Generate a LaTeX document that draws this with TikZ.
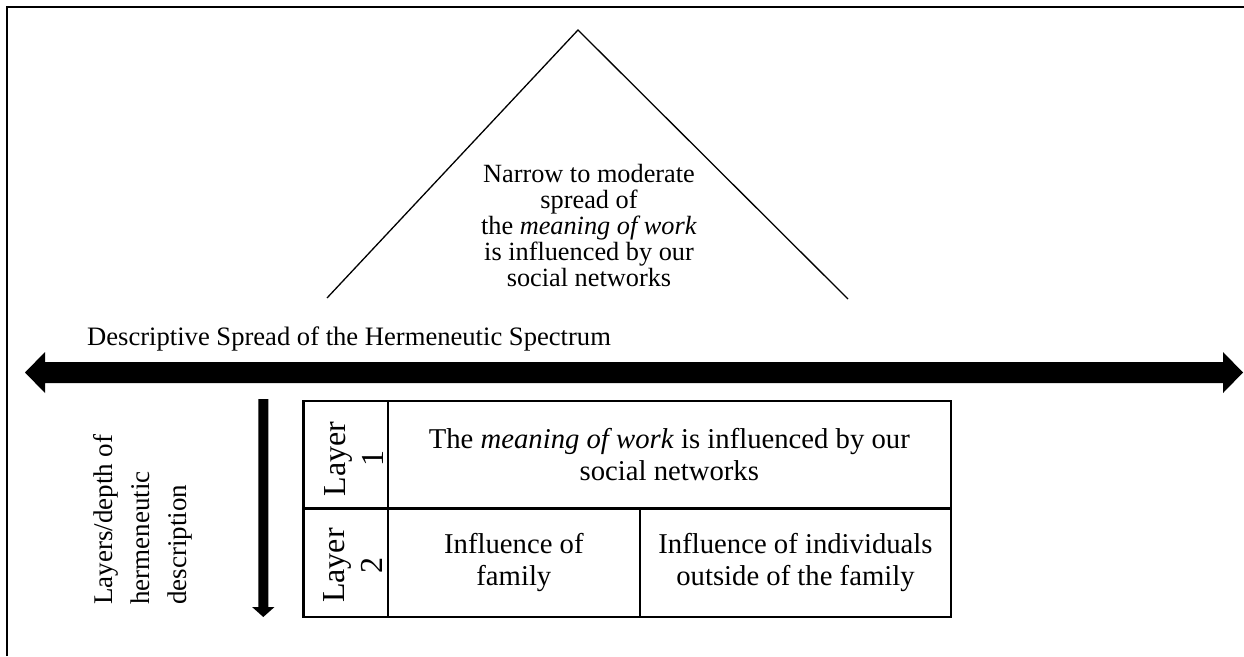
\documentclass[tikz,border=0pt]{standalone}
\usepackage{fontspec}
\setmainfont{Liberation Serif}
\usetikzlibrary{calc}

\tikzset{
  frameline/.style={line width=2.4pt},
  roofline/.style={line width=1.3pt},
  rooftext/.style={align=center, inner sep=0pt, font=\fontsize{26.3}{26}\selectfont},
  axislabel/.style={inner sep=0pt, font=\fontsize{26.6}{30}\selectfont},
  cell/.style={draw, line width=2.4pt, inner sep=0pt, align=center,
               font=\fontsize{28.7}{31.5}\selectfont},
  layerlabel/.style={rotate=90, align=center, inner sep=0pt,
                     font=\fontsize{32}{38}\selectfont},
  depthlabel/.style={rotate=90, align=left, inner sep=0pt, anchor=west,
                     font=\fontsize{27}{37}\selectfont},
}

\begin{document}
\begin{tikzpicture}[x=1pt, y=-1pt]
  \useasboundingbox (0,0) rectangle (1244,656);

  % outer frame (top and left edges)
  \coordinate (frameBL) at (7,656);
  \coordinate (frameTL) at (7,7);
  \coordinate (frameTR) at (1244,7);
  \draw[frameline] (frameBL) -- (frameTL) -- (frameTR);

  % roof over the spread description
  \coordinate (apex) at (578,30);
  \coordinate (roofL) at (327,298);
  \coordinate (roofR) at (848,299);
  \draw[roofline] (roofL) -- (apex) -- (roofR);
  \node[rooftext] (spread) at (589,225)
    {Narrow to moderate\\spread of\\the \textit{meaning of work}\\is influenced by our\\social networks};

  % horizontal spectrum axis
  \node[axislabel, anchor=base west] (axisname) at (87,345)
    {Descriptive Spread of the Hermeneutic Spectrum};
  \coordinate (spanL) at (25,372.5);
  \coordinate (spanR) at (1243,372.5);
  \fill (spanL) -- ++(20,-20.5) -- ++(0,10)
        -- ($(spanR)+(-20,-10.5)$) -- ++(0,-10) -- (spanR)
        -- ++(-20,20.5) -- ++(0,-10)
        -- ($(spanL)+(20,10.5)$) -- ++(0,10) -- cycle;

  % vertical depth axis
  \coordinate (depthTop) at (263.3,399);
  \coordinate (depthTip) at (263.3,617);
  \fill ($(depthTop)+(-5,0)$) -- ($(depthTip)+(-5,-10)$)
        -- ($(depthTip)+(-11.2,-10)$) -- (depthTip)
        -- ($(depthTip)+(11.2,-10)$) -- ($(depthTip)+(5,-10)$)
        -- ($(depthTop)+(5,0)$) -- cycle;
  \node[depthlabel] (depthname) at (143,605)
    {Layers/depth of\\hermeneutic\\description};

  % layer table
  \node[cell, minimum width=84.2pt, minimum height=107.3pt] (l1) at (345.6,454.65) {};
  \node[cell, minimum width=563.3pt, minimum height=107.3pt] (c1) at (669.35,454.65)
    {The \textit{meaning of work} is influenced by our\\social networks};
  \node[cell, minimum width=84.2pt, minimum height=108.4pt] (l2) at (345.6,562.5) {};
  \node[cell, minimum width=252.3pt, minimum height=108.4pt] (c2a) at (513.85,562.5)
    {Influence of\\family};
  \node[cell, minimum width=311pt, minimum height=108.4pt] (c2b) at (795.5,562.5)
    {Influence of individuals\\outside of the family};
  \node[layerlabel] (l1text) at ($(l1.center)+(8.4,4.3)$) {Layer\\1};
  \node[layerlabel] (l2text) at ($(l2.center)+(7.4,3)$) {Layer\\2};
\end{tikzpicture}
\end{document}
